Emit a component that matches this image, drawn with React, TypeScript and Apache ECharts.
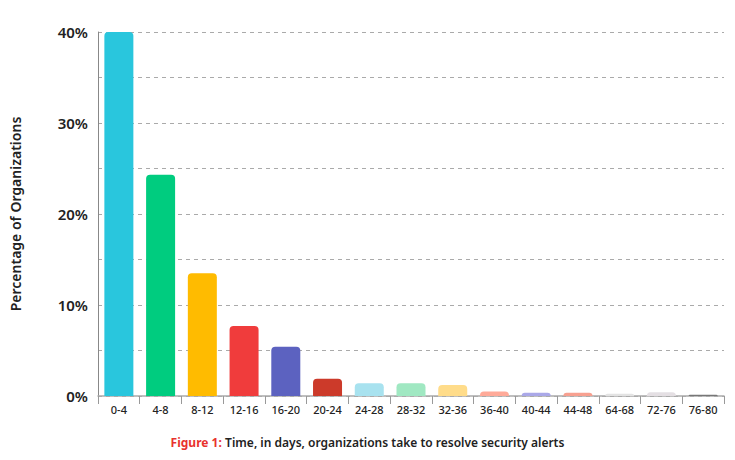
import React, { useEffect, useRef } from "react";
import * as echarts from "echarts";

const categories = ["0-4","4-8","8-12","12-16","16-20","20-24","24-28","28-32","32-36","36-40","40-44","44-48","64-68","72-76","76-80"];
const values = [40, 24.3, 13.5, 7.7, 5.4, 1.9, 1.4, 1.4, 1.2, 0.5, 0.35, 0.35, 0.25, 0.4, 0.15];
const colors = ["#29c6dd","#00cc7f","#ffbb00","#f03c3c","#5c62c0","#cc3a2a","#a8e2ef","#a0e8c2","#ffdc8a","#ffaa99","#aaa8e8","#f7a090","#e3e3e3","#e4dfe3","#777777"];
const yTicks = [0, 10, 20, 30, 40];

export default function App() {
  const ref = useRef<HTMLDivElement>(null);
  useEffect(() => {
    const chart = echarts.init(ref.current!, null, { renderer: "svg" });
    const font = "'Noto Sans', sans-serif";
    chart.setOption({
      animation: false,
      grid: { left: 97, right: 11, top: 32, bottom: 64 },
      xAxis: {
        type: "category",
        data: categories,
        axisLine: { lineStyle: { color: "#aaa", width: 1.5 } },
        axisTick: { show: true, alignWithLabel: false, length: 8, lineStyle: { color: "#999" } },
        axisLabel: { color: "#222", fontFamily: font, fontSize: 11, fontWeight: 500, margin: 8 },
      },
      yAxis: {
        type: "value",
        min: 0,
        max: 40,
        interval: 5,
        name: "Percentage of Organizations",
        nameLocation: "middle",
        nameGap: 76,
        nameTextStyle: { color: "#222", fontFamily: font, fontSize: 14, fontWeight: 600 },
        axisLine: { show: true, lineStyle: { color: "#888" } },
        axisTick: { show: false },
        axisLabel: {
          color: "#222", fontFamily: font, fontSize: 15, fontWeight: 600, margin: 10,
          formatter: (v: number) => (yTicks.includes(v) ? v + "%" : ""),
        },
        splitLine: { lineStyle: { color: "#aaa", type: [4, 4] } },
      },
      series: [{
        type: "bar",
        data: values.map((v, i) => ({ value: v, itemStyle: { color: colors[i] } })),
        barWidth: 29,
        itemStyle: { borderRadius: [4, 4, 0, 0] },
      }],
      graphic: [{
        type: "text",
        left: "center",
        top: 436,
        style: {
          text: "{r|Figure 1:} {b|Time, in days, organizations take to resolve security alerts}",
          rich: {
            r: { fill: "#e8322e", fontFamily: font, fontSize: 12, fontWeight: 700 },
            b: { fill: "#222", fontFamily: font, fontSize: 12, fontWeight: 600 },
          },
        },
        x: 60,
      }],
    });
    return () => chart.dispose();
  }, []);
  return <div ref={ref} style={{ width: 735, height: 460, margin: -8 }} />;
}
